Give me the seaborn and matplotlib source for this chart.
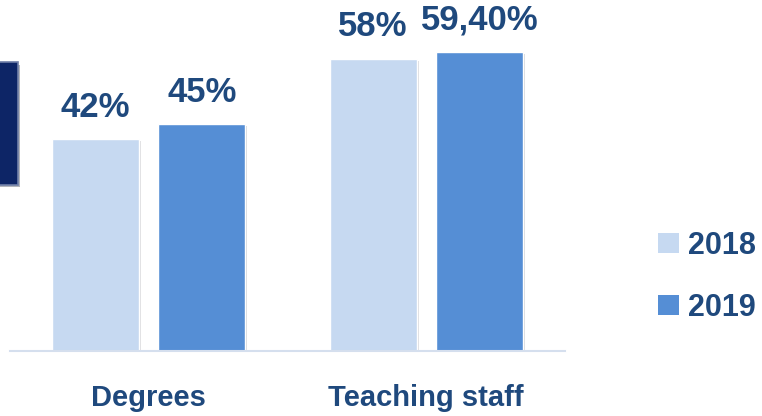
import matplotlib
matplotlib.use("Agg")
import matplotlib.pyplot as plt
import matplotlib.patheffects as pe
from matplotlib.patches import FancyBboxPatch, Rectangle
import pandas as pd
import seaborn as sns

## Data ##
categories = ["Degrees", "Teaching staff"]
years = ["2018", "2019"]
values_2018 = [42, 58]
values_2019 = [45, 59.4]
value_labels_2018 = ["42%", "58%"]
value_labels_2019 = ["45%", "59,40%"]

df = pd.DataFrame({
    "category": categories * 2,
    "year": [years[0]] * len(categories) + [years[1]] * len(categories),
    "value": values_2018 + values_2019,
})

## Style ##
sns.set_style("white")
plt.rcParams['font.family'] = ['Liberation Sans', 'DejaVu Sans']

text_blue = "#1F497D"
palette = {"2018": "#C6D9F1", "2019": "#558ED5"}

fig = plt.figure(figsize=(7.62, 4.16), dpi=100)
ax = fig.add_axes([0.0131, 0.156, 0.7284, 0.788])

sns.barplot(data=df, x="category", y="value", hue="year", order=categories,
            hue_order=years, palette=palette, width=0.765, gap=0.18,
            saturation=1, legend=False, ax=ax)

# soft shadow like the original
for bar in ax.patches:
    bar.set_path_effects([pe.SimplePatchShadow(offset=(1.5, -1.5), alpha=0.18),
                          pe.Normal()])

ax.set_xlim(-0.5, 1.5)
ax.set_ylim(0, 65)

# value labels
for container, labels in zip(ax.containers, [value_labels_2018, value_labels_2019]):
    ax.bar_label(container, labels=labels, padding=11, fontsize=25,
                 fontweight="bold", color=text_blue, clip_on=False)

for s in ["top", "right", "left"]:
    ax.spines[s].set_visible(False)
ax.spines["bottom"].set_color("#D5DFEE")
ax.spines["bottom"].set_linewidth(1.5)
ax.set_yticks([])
ax.tick_params(axis="x", length=0, pad=24)
ax.set_xlabel("")
ax.set_ylabel("")
for lbl in ax.get_xticklabels():
    lbl.set_fontsize(21)
    lbl.set_fontweight("bold")
    lbl.set_color(text_blue)

# legend drawn by hand on the right
leg_y = [0.392, 0.243]
for yr, yy in zip(years, leg_y):
    fig.patches.append(Rectangle((0.8635, yy), 0.0276, 0.048, transform=fig.transFigure,
                                 facecolor=palette[yr], edgecolor="none"))
    fig.text(0.903, yy + 0.024, yr, fontsize=22, fontweight="bold", color=text_blue,
             va="center_baseline", ha="left")

# dark box cut by the left edge
box = FancyBboxPatch((-0.02, 0.556), 0.043, 0.295, boxstyle="square,pad=0",
                     transform=fig.transFigure, facecolor="#0D2566",
                     edgecolor="#6F7FA8", linewidth=1.2)
box.set_path_effects([pe.SimplePatchShadow(offset=(2, -2), alpha=0.3), pe.Normal()])
fig.patches.append(box)

plt.savefig("out.png", dpi=100)
